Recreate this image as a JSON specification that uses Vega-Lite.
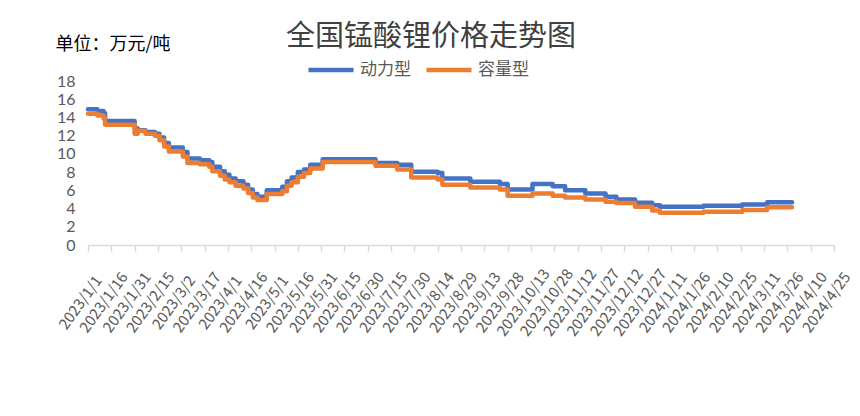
{
  "$schema": "https://vega.github.io/schema/vega-lite/v6.json",
  "width": 746,
  "height": 164,
  "autosize": {"type": "none"},
  "padding": {"left": 88, "top": 81, "right": 26, "bottom": 171},
  "background": "white",
  "config": {
    "font": "Noto Sans CJK SC",
    "view": {"stroke": null}
  },
  "title": {
    "text": "全国锰酸锂价格走势图",
    "fontSize": 29,
    "fontWeight": "normal",
    "color": "#404040",
    "anchor": "middle",
    "frame": "group",
    "dx": -30,
    "dy": 47,
    "offset": 30
  },
  "data": {
    "values": [
      {"date": "2023-01-01", "type": "动力型", "price": 14.9},
      {"date": "2023-01-07", "type": "动力型", "price": 14.7},
      {"date": "2023-01-11", "type": "动力型", "price": 14.45},
      {"date": "2023-01-12", "type": "动力型", "price": 13.6},
      {"date": "2023-01-31", "type": "动力型", "price": 12.8},
      {"date": "2023-02-02", "type": "动力型", "price": 12.6},
      {"date": "2023-02-07", "type": "动力型", "price": 12.4},
      {"date": "2023-02-13", "type": "动力型", "price": 12.2},
      {"date": "2023-02-16", "type": "动力型", "price": 11.8},
      {"date": "2023-02-19", "type": "动力型", "price": 11.2},
      {"date": "2023-02-22", "type": "动力型", "price": 10.7},
      {"date": "2023-03-03", "type": "动力型", "price": 10.2},
      {"date": "2023-03-06", "type": "动力型", "price": 9.5},
      {"date": "2023-03-14", "type": "动力型", "price": 9.3},
      {"date": "2023-03-20", "type": "动力型", "price": 9.1},
      {"date": "2023-03-22", "type": "动力型", "price": 8.6},
      {"date": "2023-03-27", "type": "动力型", "price": 8.1},
      {"date": "2023-03-30", "type": "动力型", "price": 7.7},
      {"date": "2023-04-02", "type": "动力型", "price": 7.3},
      {"date": "2023-04-06", "type": "动力型", "price": 7.0},
      {"date": "2023-04-11", "type": "动力型", "price": 6.6},
      {"date": "2023-04-14", "type": "动力型", "price": 6.1},
      {"date": "2023-04-17", "type": "动力型", "price": 5.6},
      {"date": "2023-04-20", "type": "动力型", "price": 5.3},
      {"date": "2023-04-26", "type": "动力型", "price": 6.0},
      {"date": "2023-05-06", "type": "动力型", "price": 6.4},
      {"date": "2023-05-09", "type": "动力型", "price": 7.0},
      {"date": "2023-05-12", "type": "动力型", "price": 7.4},
      {"date": "2023-05-16", "type": "动力型", "price": 8.0},
      {"date": "2023-05-20", "type": "动力型", "price": 8.3},
      {"date": "2023-05-24", "type": "动力型", "price": 8.8},
      {"date": "2023-06-01", "type": "动力型", "price": 9.4},
      {"date": "2023-07-05", "type": "动力型", "price": 9.0},
      {"date": "2023-07-19", "type": "动力型", "price": 8.8},
      {"date": "2023-07-28", "type": "动力型", "price": 8.05},
      {"date": "2023-08-14", "type": "动力型", "price": 7.9},
      {"date": "2023-08-17", "type": "动力型", "price": 7.3},
      {"date": "2023-09-04", "type": "动力型", "price": 6.95},
      {"date": "2023-09-23", "type": "动力型", "price": 6.7},
      {"date": "2023-09-28", "type": "动力型", "price": 6.1},
      {"date": "2023-10-14", "type": "动力型", "price": 6.7},
      {"date": "2023-10-27", "type": "动力型", "price": 6.45},
      {"date": "2023-11-04", "type": "动力型", "price": 6.0},
      {"date": "2023-11-17", "type": "动力型", "price": 5.65},
      {"date": "2023-11-30", "type": "动力型", "price": 5.3},
      {"date": "2023-12-07", "type": "动力型", "price": 5.0},
      {"date": "2023-12-19", "type": "动力型", "price": 4.65},
      {"date": "2023-12-30", "type": "动力型", "price": 4.35},
      {"date": "2024-01-04", "type": "动力型", "price": 4.2},
      {"date": "2024-02-01", "type": "动力型", "price": 4.3},
      {"date": "2024-02-26", "type": "动力型", "price": 4.45},
      {"date": "2024-03-13", "type": "动力型", "price": 4.7},
      {"date": "2024-03-29", "type": "动力型", "price": 4.7},
      {"date": "2023-01-01", "type": "容量型", "price": 14.4},
      {"date": "2023-01-07", "type": "容量型", "price": 14.2},
      {"date": "2023-01-11", "type": "容量型", "price": 13.9},
      {"date": "2023-01-12", "type": "容量型", "price": 13.2},
      {"date": "2023-01-31", "type": "容量型", "price": 12.2},
      {"date": "2023-02-02", "type": "容量型", "price": 12.55},
      {"date": "2023-02-07", "type": "容量型", "price": 12.2},
      {"date": "2023-02-13", "type": "容量型", "price": 12.0},
      {"date": "2023-02-16", "type": "容量型", "price": 11.5},
      {"date": "2023-02-19", "type": "容量型", "price": 10.8},
      {"date": "2023-02-22", "type": "容量型", "price": 10.25},
      {"date": "2023-03-03", "type": "容量型", "price": 9.7},
      {"date": "2023-03-06", "type": "容量型", "price": 9.0},
      {"date": "2023-03-14", "type": "容量型", "price": 8.85},
      {"date": "2023-03-20", "type": "容量型", "price": 8.6},
      {"date": "2023-03-22", "type": "容量型", "price": 8.1},
      {"date": "2023-03-27", "type": "容量型", "price": 7.6},
      {"date": "2023-03-30", "type": "容量型", "price": 7.2},
      {"date": "2023-04-02", "type": "容量型", "price": 6.9},
      {"date": "2023-04-06", "type": "容量型", "price": 6.5},
      {"date": "2023-04-11", "type": "容量型", "price": 6.2},
      {"date": "2023-04-14", "type": "容量型", "price": 5.7},
      {"date": "2023-04-17", "type": "容量型", "price": 5.2},
      {"date": "2023-04-20", "type": "容量型", "price": 4.95},
      {"date": "2023-04-26", "type": "容量型", "price": 5.6},
      {"date": "2023-05-06", "type": "容量型", "price": 5.9},
      {"date": "2023-05-09", "type": "容量型", "price": 6.5},
      {"date": "2023-05-12", "type": "容量型", "price": 6.9},
      {"date": "2023-05-16", "type": "容量型", "price": 7.5},
      {"date": "2023-05-20", "type": "容量型", "price": 7.9},
      {"date": "2023-05-24", "type": "容量型", "price": 8.4},
      {"date": "2023-06-01", "type": "容量型", "price": 9.1},
      {"date": "2023-07-05", "type": "容量型", "price": 8.7},
      {"date": "2023-07-19", "type": "容量型", "price": 8.3},
      {"date": "2023-07-28", "type": "容量型", "price": 7.4},
      {"date": "2023-08-14", "type": "容量型", "price": 7.2},
      {"date": "2023-08-17", "type": "容量型", "price": 6.6},
      {"date": "2023-09-04", "type": "容量型", "price": 6.3},
      {"date": "2023-09-23", "type": "容量型", "price": 6.1},
      {"date": "2023-09-28", "type": "容量型", "price": 5.4},
      {"date": "2023-10-14", "type": "容量型", "price": 5.65},
      {"date": "2023-10-27", "type": "容量型", "price": 5.4},
      {"date": "2023-11-04", "type": "容量型", "price": 5.2},
      {"date": "2023-11-17", "type": "容量型", "price": 5.0},
      {"date": "2023-11-30", "type": "容量型", "price": 4.75},
      {"date": "2023-12-07", "type": "容量型", "price": 4.6},
      {"date": "2023-12-19", "type": "容量型", "price": 4.2},
      {"date": "2023-12-30", "type": "容量型", "price": 3.8},
      {"date": "2024-01-04", "type": "容量型", "price": 3.55},
      {"date": "2024-02-01", "type": "容量型", "price": 3.65},
      {"date": "2024-02-26", "type": "容量型", "price": 3.85},
      {"date": "2024-03-13", "type": "容量型", "price": 4.15},
      {"date": "2024-03-29", "type": "容量型", "price": 4.15}
    ]
  },
  "mark": {"type": "line", "interpolate": "step-after", "strokeWidth": 4.5, "strokeJoin": "round", "strokeCap": "round"},
  "encoding": {
    "x": {
      "field": "date",
      "type": "temporal",
      "scale": {"type": "utc", "domain": [{"year": 2023, "month": 1, "date": 1, "utc": true}, {"year": 2024, "month": 4, "date": 25, "utc": true}]},
      "axis": {
        "title": null,
        "labelExpr": "utcFormat(datum.value, '%Y/%-m/%-d')",
        "values": [
          {"year": 2023, "month": 1, "date": 1, "utc": true},
          {"year": 2023, "month": 1, "date": 16, "utc": true},
          {"year": 2023, "month": 1, "date": 31, "utc": true},
          {"year": 2023, "month": 2, "date": 15, "utc": true},
          {"year": 2023, "month": 3, "date": 2, "utc": true},
          {"year": 2023, "month": 3, "date": 17, "utc": true},
          {"year": 2023, "month": 4, "date": 1, "utc": true},
          {"year": 2023, "month": 4, "date": 16, "utc": true},
          {"year": 2023, "month": 5, "date": 1, "utc": true},
          {"year": 2023, "month": 5, "date": 16, "utc": true},
          {"year": 2023, "month": 5, "date": 31, "utc": true},
          {"year": 2023, "month": 6, "date": 15, "utc": true},
          {"year": 2023, "month": 6, "date": 30, "utc": true},
          {"year": 2023, "month": 7, "date": 15, "utc": true},
          {"year": 2023, "month": 7, "date": 30, "utc": true},
          {"year": 2023, "month": 8, "date": 14, "utc": true},
          {"year": 2023, "month": 8, "date": 29, "utc": true},
          {"year": 2023, "month": 9, "date": 13, "utc": true},
          {"year": 2023, "month": 9, "date": 28, "utc": true},
          {"year": 2023, "month": 10, "date": 13, "utc": true},
          {"year": 2023, "month": 10, "date": 28, "utc": true},
          {"year": 2023, "month": 11, "date": 12, "utc": true},
          {"year": 2023, "month": 11, "date": 27, "utc": true},
          {"year": 2023, "month": 12, "date": 12, "utc": true},
          {"year": 2023, "month": 12, "date": 27, "utc": true},
          {"year": 2024, "month": 1, "date": 11, "utc": true},
          {"year": 2024, "month": 1, "date": 26, "utc": true},
          {"year": 2024, "month": 2, "date": 10, "utc": true},
          {"year": 2024, "month": 2, "date": 25, "utc": true},
          {"year": 2024, "month": 3, "date": 11, "utc": true},
          {"year": 2024, "month": 3, "date": 26, "utc": true},
          {"year": 2024, "month": 4, "date": 10, "utc": true},
          {"year": 2024, "month": 4, "date": 25, "utc": true}
        ],
        "labelAngle": -54,
        "labelAlign": "center",
        "labelBaseline": "middle",
        "labelFontSize": 15,
        "labelColor": "#595959",
        "labelPadding": 51,
        "labelOffset": -8,
        "labelOverlap": false,
        "labelFlush": false,
        "domainColor": "#D9D9D9",
        "domainWidth": 1.5,
        "tickColor": "#D9D9D9",
        "tickWidth": 1.5,
        "tickSize": 6,
        "grid": false
      }
    },
    "y": {
      "field": "price",
      "type": "quantitative",
      "scale": {"domain": [0, 18], "nice": false, "zero": true},
      "axis": {
        "values": [0, 2, 4, 6, 8, 10, 12, 14, 16, 18],
        "title": "单位：万元/吨",
        "titleAngle": 0,
        "titleX": -33,
        "titleY": -37,
        "titleAlign": "left",
        "titleBaseline": "middle",
        "titleFontSize": 18,
        "titleFontWeight": "normal",
        "titleColor": "#000000",
        "labelFont": "Lato",
        "labelFontSize": 16,
        "labelColor": "#595959",
        "labelPadding": 13,
        "domain": false,
        "ticks": false,
        "grid": false
      }
    },
    "color": {
      "field": "type",
      "type": "nominal",
      "scale": {"domain": ["动力型", "容量型"], "range": ["#4472C4", "#ED7D31"]},
      "legend": {
        "title": null,
        "orient": "none",
        "direction": "horizontal",
        "legendX": 218,
        "legendY": -36,
        "symbolType": "stroke",
        "symbolSize": 2025,
        "symbolStrokeWidth": 4.5,
        "labelFontSize": 17,
        "labelColor": "#595959",
        "labelOffset": 4,
        "columnPadding": 6
      }
    }
  }
}
